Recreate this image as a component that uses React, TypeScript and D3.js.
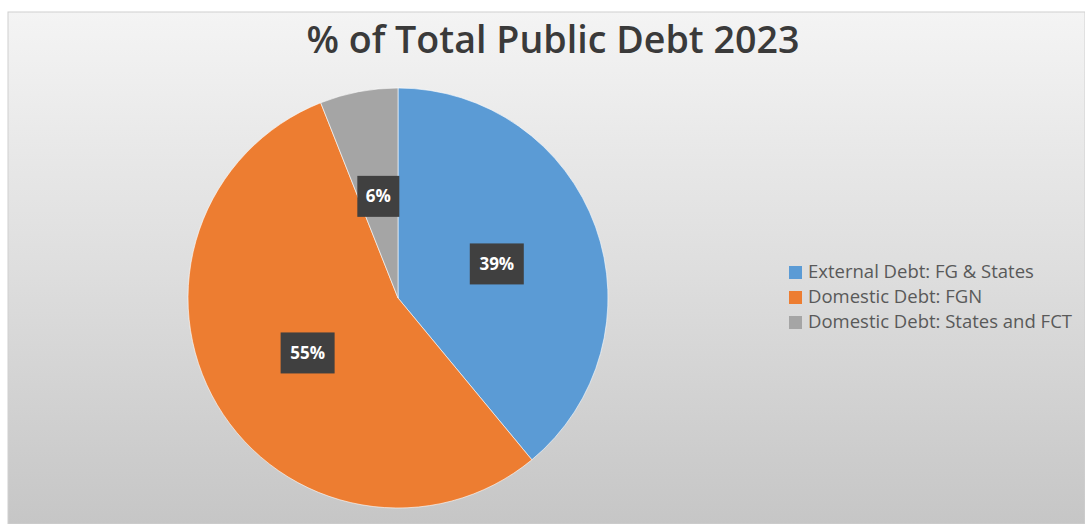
import React, { useEffect, useRef } from "react";
import * as d3 from "d3";

const categories = [
  "External Debt: FG & States",
  "Domestic Debt: FGN",
  "Domestic Debt: States and FCT",
];
const shares = [39, 55, 6];
const colors = ["#5b9bd5", "#ed7d31", "#a5a5a5"];
const title = "% of Total Public Debt 2023";

const W = 1085;
const H = 524;

export default function App() {
  const ref = useRef<SVGSVGElement | null>(null);

  useEffect(() => {
    const svg = d3.select(ref.current);
    svg.selectAll("*").remove();

    const defs = svg.append("defs");
    const grad = defs
      .append("linearGradient")
      .attr("id", "bg")
      .attr("x1", 0)
      .attr("y1", 0)
      .attr("x2", 0)
      .attr("y2", 1);
    grad.append("stop").attr("offset", "0%").attr("stop-color", "#f4f4f4");
    grad.append("stop").attr("offset", "50%").attr("stop-color", "#dedede");
    grad.append("stop").attr("offset", "100%").attr("stop-color", "#c6c6c6");

    svg.append("rect").attr("width", W).attr("height", H).attr("fill", "#ffffff");
    svg
      .append("rect")
      .attr("x", 8)
      .attr("y", 12)
      .attr("width", W - 8)
      .attr("height", H - 12)
      .attr("fill", "url(#bg)")
      .attr("stroke", "#d0d0d0")
      .attr("stroke-width", 1);

    svg
      .append("text")
      .attr("x", 553)
      .attr("y", 53)
      .attr("text-anchor", "middle")
      .attr("font-family", "'Open Sans', 'Noto Sans', sans-serif")
      .attr("font-size", 37)
      .attr("font-weight", 600)
      .attr("fill", "#3a3a3a")
      .attr("textLength", 493)
      .attr("lengthAdjust", "spacingAndGlyphs")
      .text(title);

    const cx = 398;
    const cy = 298;
    const r = 210;

    const pie = d3
      .pie<number>()
      .sort(null)
      .value((d) => d);
    const arcs = pie(shares);
    const arc = d3.arc<d3.PieArcDatum<number>>().innerRadius(0).outerRadius(r);
    const labelArc = d3
      .arc<d3.PieArcDatum<number>>()
      .innerRadius(r * 0.5)
      .outerRadius(r * 0.5);

    const g = svg.append("g").attr("transform", `translate(${cx},${cy})`);
    g.selectAll("path.slice")
      .data(arcs)
      .join("path")
      .attr("class", "slice")
      .attr("d", arc)
      .attr("fill", (_, i) => colors[i])
      .attr("stroke", "#ffffff")
      .attr("stroke-width", 0.6);

    const labels = g
      .selectAll("g.lbl")
      .data(arcs)
      .join("g")
      .attr("class", "lbl")
      .attr("transform", (d) => {
        const [x, y] = labelArc.centroid(d);
        return `translate(${x},${y + 1})`;
      });

    labels
      .append("rect")
      .attr("x", (d) => (d.data < 10 ? -21 : -27))
      .attr("y", -20)
      .attr("width", (d) => (d.data < 10 ? 42 : 54))
      .attr("height", 41)
      .attr("fill", "#404040");

    labels
      .append("text")
      .attr("text-anchor", "middle")
      .attr("dy", "0.36em")
      .attr("font-family", "'Open Sans', 'Noto Sans', sans-serif")
      .attr("font-size", 17)
      .attr("font-weight", 700)
      .attr("fill", "#ffffff")
      .text((d) => `${d.data}%`);

    const legend = svg.append("g");
    const rowY = d3
      .scalePoint<string>()
      .domain(categories)
      .range([272, 322]);
    const rows = legend
      .selectAll("g.row")
      .data(categories)
      .join("g")
      .attr("class", "row")
      .attr("transform", (d) => `translate(789,${rowY(d)})`);
    rows
      .append("rect")
      .attr("x", 0)
      .attr("y", -6)
      .attr("width", 13)
      .attr("height", 13)
      .attr("fill", (_, i) => colors[i]);
    rows
      .append("text")
      .attr("x", 19)
      .attr("dy", "0.35em")
      .attr("font-family", "'Open Sans', 'Noto Sans', sans-serif")
      .attr("font-size", 18.5)
      .attr("fill", "#595959")
      .text((d) => d);
  }, []);

  return (
    <svg
      ref={ref}
      width={W}
      height={H}
      style={{ position: "absolute", left: 0, top: 0, display: "block" }}
    />
  );
}
